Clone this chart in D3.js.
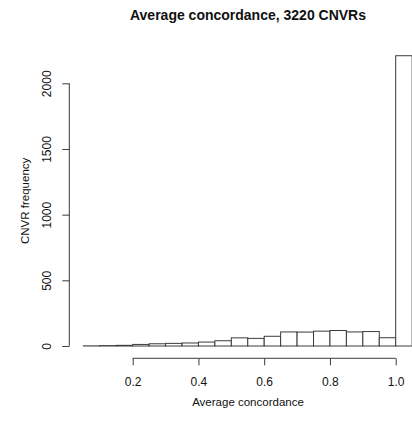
<!DOCTYPE html>
<html>
<head>
<meta charset="utf-8">
<script src="https://cdn.jsdelivr.net/npm/d3@7"></script>
<style>
  html, body { margin: 0; padding: 0; background: #fff; }
  svg { display: block; }
  text { font-family: "Liberation Sans", Arial, sans-serif; fill: #111; }
</style>
</head>
<body>
<svg id="chart" width="412" height="424"></svg>
<script>
// Histogram bins of average concordance (bin width 0.05)
const binStarts = [0.05, 0.10, 0.15, 0.20, 0.25, 0.30, 0.35, 0.40, 0.45, 0.50,
                   0.55, 0.60, 0.65, 0.70, 0.75, 0.80, 0.85, 0.90, 0.95, 1.00];
const binCounts = [1, 3, 5, 12, 17, 20, 23, 30, 40, 62,
                   58, 74, 107, 106, 113, 118, 107, 110, 63, 2210];
const binWidth = 0.05;
const xTicks = [0.2, 0.4, 0.6, 0.8, 1.0];
const yTicks = [0, 500, 1000, 1500, 2000];

const svg = d3.select("#chart");
const stroke = "#3a3a3a";

const x = d3.scaleLinear().domain([0.2, 1.0]).range([132.7, 395.7]);
const y = d3.scaleLinear().domain([0, 2000]).range([346, 83.3]);

// bars
svg.append("g").selectAll("rect")
  .data(binStarts.map((s, i) => ({ s, c: binCounts[i] })))
  .join("rect")
  .attr("x", d => x(d.s))
  .attr("width", d => x(d.s + binWidth) - x(d.s))
  .attr("y", d => y(d.c))
  .attr("height", d => y(0) - y(d.c))
  .attr("fill", "#fff")
  .attr("stroke", stroke)
  .attr("stroke-width", 1);

// x axis
const axisY = 358.3;
const gx = svg.append("g").attr("transform", `translate(0,${axisY})`)
  .call(d3.axisBottom(x).tickValues(xTicks).tickFormat(d3.format(".1f"))
        .tickSize(7).tickSizeOuter(0));
gx.select(".domain").remove();
gx.append("line").attr("x1", x(0.2)).attr("x2", x(1.0))
  .attr("stroke", stroke);
gx.selectAll(".tick line").attr("stroke", stroke);
gx.selectAll(".tick text").attr("font-size", 12).attr("dy", 0).attr("y", 27.5)
  .attr("fill", "#111").attr("font-family", "Liberation Sans, Arial, sans-serif");

// y axis
const axisX = 69.3;
const gy = svg.append("g").attr("transform", `translate(${axisX},0)`)
  .call(d3.axisLeft(y).tickValues(yTicks).tickFormat(d3.format("d"))
        .tickSize(7).tickSizeOuter(0));
gy.select(".domain").remove();
gy.append("line").attr("y1", y(0)).attr("y2", y(2000)).attr("stroke", stroke);
gy.selectAll(".tick line").attr("stroke", stroke);
gy.selectAll(".tick text")
  .attr("font-size", 12).attr("fill", "#111")
  .attr("font-family", "Liberation Sans, Arial, sans-serif")
  .attr("x", 0).attr("dy", 0)
  .attr("text-anchor", "middle")
  .attr("transform", "translate(-18,0) rotate(-90)");

// titles
svg.append("text").attr("x", 248).attr("y", 19.5)
  .attr("text-anchor", "middle").attr("font-size", 14).attr("font-weight", "bold")
  .text("Average concordance, 3220 CNVRs");

svg.append("text").attr("x", 248).attr("y", 406)
  .attr("text-anchor", "middle").attr("font-size", 11.5)
  .text("Average concordance");

svg.append("text")
  .attr("transform", `translate(29,${y(1105)}) rotate(-90)`)
  .attr("text-anchor", "middle").attr("font-size", 11.5)
  .text("CNVR frequency");
</script>
</body>
</html>
